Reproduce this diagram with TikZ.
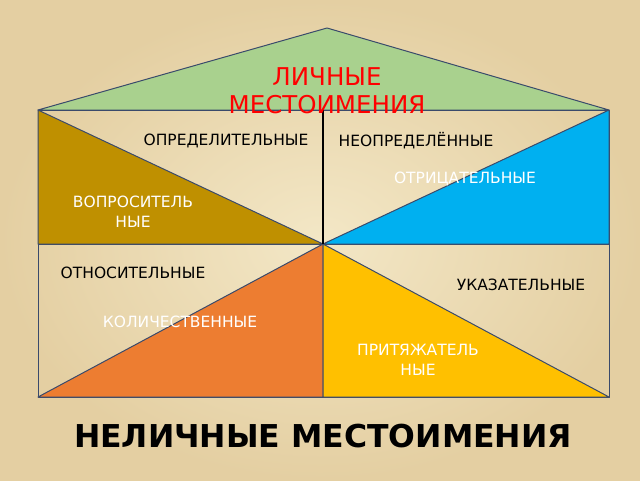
\documentclass[tikz,border=0pt]{standalone}
\usepackage{fontspec}
\setmainfont{DejaVu Sans}
\definecolor{paperlight}{HTML}{F3E7C6}
\definecolor{paperdark}{HTML}{E4CFA2}
\definecolor{edgegray}{HTML}{3A4A6B}
\definecolor{roofgreen}{HTML}{A9D18E}
\definecolor{askbrown}{HTML}{BF9000}
\definecolor{negblue}{HTML}{00B0F0}
\definecolor{numorange}{HTML}{ED7D31}
\definecolor{posyellow}{HTML}{FFC000}
\tikzset{
  edge/.style={draw=edgegray,line width=1pt,line join=round},
  lbl/.style={font=\fontsize{15.5}{20}\selectfont,align=center,inner sep=0pt},
  wlbl/.style={lbl,text=white}
}
\begin{document}
\begin{tikzpicture}[x=1pt,y=-1pt]
\useasboundingbox (0,0) rectangle (640,480);
\shade[inner color=paperlight,outer color=paperdark] (0,0) rectangle (640,480);
%corners of the house
\coordinate (top) at (327,28);
\coordinate (tl) at (38,110);
\coordinate (tr) at (609,110);
\coordinate (tm) at (323,110);
\coordinate (ml) at (38,244);
\coordinate (mm) at (323,244);
\coordinate (mr) at (609,244);
\coordinate (bl) at (38,397);
\coordinate (bm) at (323,397);
\coordinate (br) at (609,397);
%roof
\filldraw[edge,fill=roofgreen] (tl) -- (top) -- (tr) -- cycle;
\draw[edge] (tl) rectangle (br);
\draw[edge] (ml) -- (mr);
\filldraw[edge,fill=askbrown] (tl) -- (mm) -- (ml) -- cycle;
\filldraw[edge,fill=negblue] (tr) -- (mm) -- (mr) -- cycle;
\filldraw[edge,fill=numorange] (mm) -- (bl) -- (bm) -- cycle;
\filldraw[edge,fill=posyellow] (mm) -- (bm) -- (br) -- cycle;
\draw[black,line width=2pt] (tm) -- (mm);
%labels
\node[font=\fontsize{24.5}{28}\selectfont,text=red,align=center,inner sep=0pt] (personal) at (327,91) {ЛИЧНЫЕ\\МЕСТОИМЕНИЯ};
\node[lbl] (defin) at (226,141) {ОПРЕДЕЛИТЕЛЬНЫЕ};
\node[lbl] (indef) at (416,141) {НЕОПРЕДЕЛЁННЫЕ};
\node[wlbl] (negat) at (465,179) {ОТРИЦАТЕЛЬНЫЕ};
\node[wlbl] (inter) at (133,212) {ВОПРОСИТЕЛЬ\\НЫЕ};
\node[lbl] (relat) at (133,273) {ОТНОСИТЕЛЬНЫЕ};
\node[lbl] (demon) at (521,285) {УКАЗАТЕЛЬНЫЕ};
\node[wlbl] (quant) at (180,322) {КОЛИЧЕСТВЕННЫЕ};
\node[wlbl] (posse) at (418,360) {ПРИТЯЖАТЕЛЬ\\НЫЕ};
\node[font=\bfseries\fontsize{31.5}{36}\selectfont,inner sep=0pt] (impers) at (323,436) {НЕЛИЧНЫЕ МЕСТОИМЕНИЯ};
\end{tikzpicture}
\end{document}
